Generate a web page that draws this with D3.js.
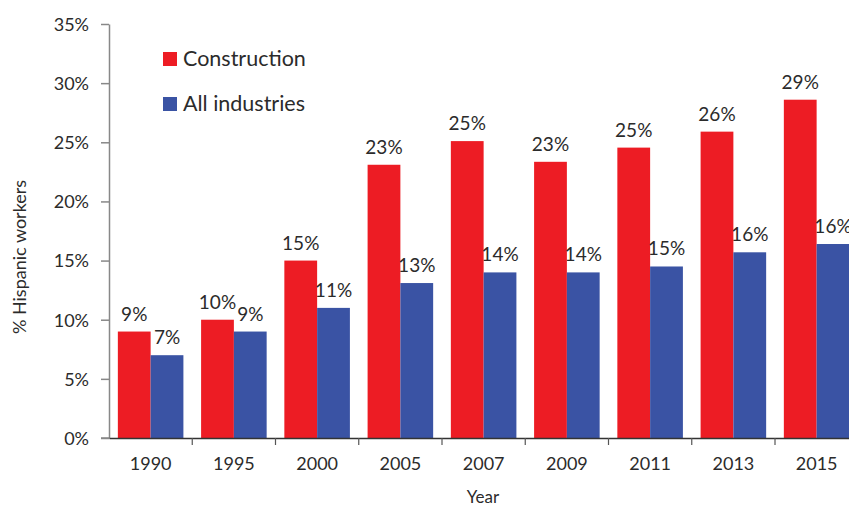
<!DOCTYPE html>
<html><head><meta charset="utf-8">
<script src="https://cdn.jsdelivr.net/npm/d3@7"></script>
<style>body{margin:0;background:#fff}svg{display:block}text{font-family:Lato,"Open Sans",sans-serif;fill:#2b2b2b}</style>
</head><body><svg id="c" width="849" height="506"></svg>
<script>
const years = ["1990","1995","2000","2005","2007","2009","2011","2013","2015"];
const construction = [9.0, 10.0, 15.0, 23.1, 25.1, 23.35, 24.55, 25.9, 28.6];
const allIndustries = [7.0, 9.0, 11.0, 13.1, 14.0, 14.0, 14.5, 15.7, 16.4];
const constructionLabels = ["9%","10%","15%","23%","25%","23%","25%","26%","29%"];
const allLabels = ["7%","9%","11%","13%","14%","14%","15%","16%","16%"];
const seriesNames = ["Construction","All industries"];
const colors = ["#ED1C24","#3A53A4"];
const yTicks = [0,5,10,15,20,25,30,35];

const svg = d3.select("#c");
const plotLeft = 109, bandW = 83.25, plotTop = 24, plotBottom = 438;
const x0 = d3.scaleBand().domain(years).range([plotLeft, plotLeft + bandW*years.length]).padding(0);
const x1 = d3.scaleBand().domain([0,1]).range([0, x0.bandwidth()]).paddingInner(0).paddingOuter(0.27);
const y = d3.scaleLinear().domain([0,35]).range([plotBottom, plotTop]);

const data = years.map((yr,i)=>({yr, vals:[construction[i], allIndustries[i]], labs:[constructionLabels[i], allLabels[i]]}));

const g = svg.selectAll("g.grp").data(data).join("g").attr("class","grp").attr("transform", d=>`translate(${x0(d.yr)},0)`);
g.selectAll("rect").data(d=>d.vals.map((v,k)=>({v,k}))).join("rect")
  .attr("x", d=>x1(d.k)).attr("width", x1.bandwidth())
  .attr("y", d=>y(d.v)).attr("height", d=>plotBottom - y(d.v))
  .attr("fill", d=>colors[d.k]);
g.selectAll("text.lab").data(d=>d.vals.map((v,k)=>({v,k,l:d.labs[k]}))).join("text")
  .attr("class","lab")
  .attr("x", d=>x1(d.k)+x1.bandwidth()/2).attr("y", d=>y(d.v)-11)
  .attr("text-anchor","middle").style("font-size","19px").text(d=>d.l);

// Y axis
const yAxis = svg.append("g").attr("transform",`translate(${plotLeft},0)`)
  .call(d3.axisLeft(y).tickValues(yTicks).tickFormat(d=>d+"%").tickSize(8).tickSizeOuter(0));
yAxis.select(".domain").attr("stroke","#888").attr("stroke-width",1.5);
yAxis.selectAll(".tick line").attr("stroke","#888").attr("stroke-width",1.5);
yAxis.selectAll(".tick text").attr("x",-20).attr("dy","0.35em").style("font-size","18px").style("fill","#2b2b2b").style("font-family","Lato,'Open Sans',sans-serif");

// X axis
const xAxis = svg.append("g").attr("transform",`translate(0,${plotBottom})`)
  .call(d3.axisBottom(x0).tickSize(0).tickSizeOuter(0));
xAxis.select(".domain").attr("stroke","#333").attr("stroke-width",1.5);
xAxis.selectAll(".tick text").attr("y",19).style("font-size","18px").style("fill","#2b2b2b").style("font-family","Lato,'Open Sans',sans-serif");
svg.append("g").selectAll("line").data(years.slice(1)).join("line")
  .attr("x1",d=>x0(d)).attr("x2",d=>x0(d)).attr("y1",plotBottom).attr("y2",plotBottom+7)
  .attr("stroke","#555").attr("stroke-width",1.2);
svg.append("line").attr("x1",plotLeft-8).attr("x2",plotLeft).attr("y1",plotBottom).attr("y2",plotBottom).attr("stroke","#888").attr("stroke-width",1.5);

// Titles
svg.append("text").attr("x",483).attr("y",503).attr("text-anchor","middle").style("font-size","17px").text("Year");
svg.append("text").attr("transform","translate(26,257) rotate(-90)").attr("text-anchor","middle").style("font-size","18px").text("% Hispanic workers");

// Legend
const leg = svg.append("g").selectAll("g").data(seriesNames).join("g")
  .attr("transform",(d,i)=>`translate(163,${52+i*45})`);
leg.append("rect").attr("width",14).attr("height",14).attr("fill",(d,i)=>colors[i]);
leg.append("text").attr("x",20).attr("y",14).style("font-size","21.5px").text(d=>d);
</script></body></html>
